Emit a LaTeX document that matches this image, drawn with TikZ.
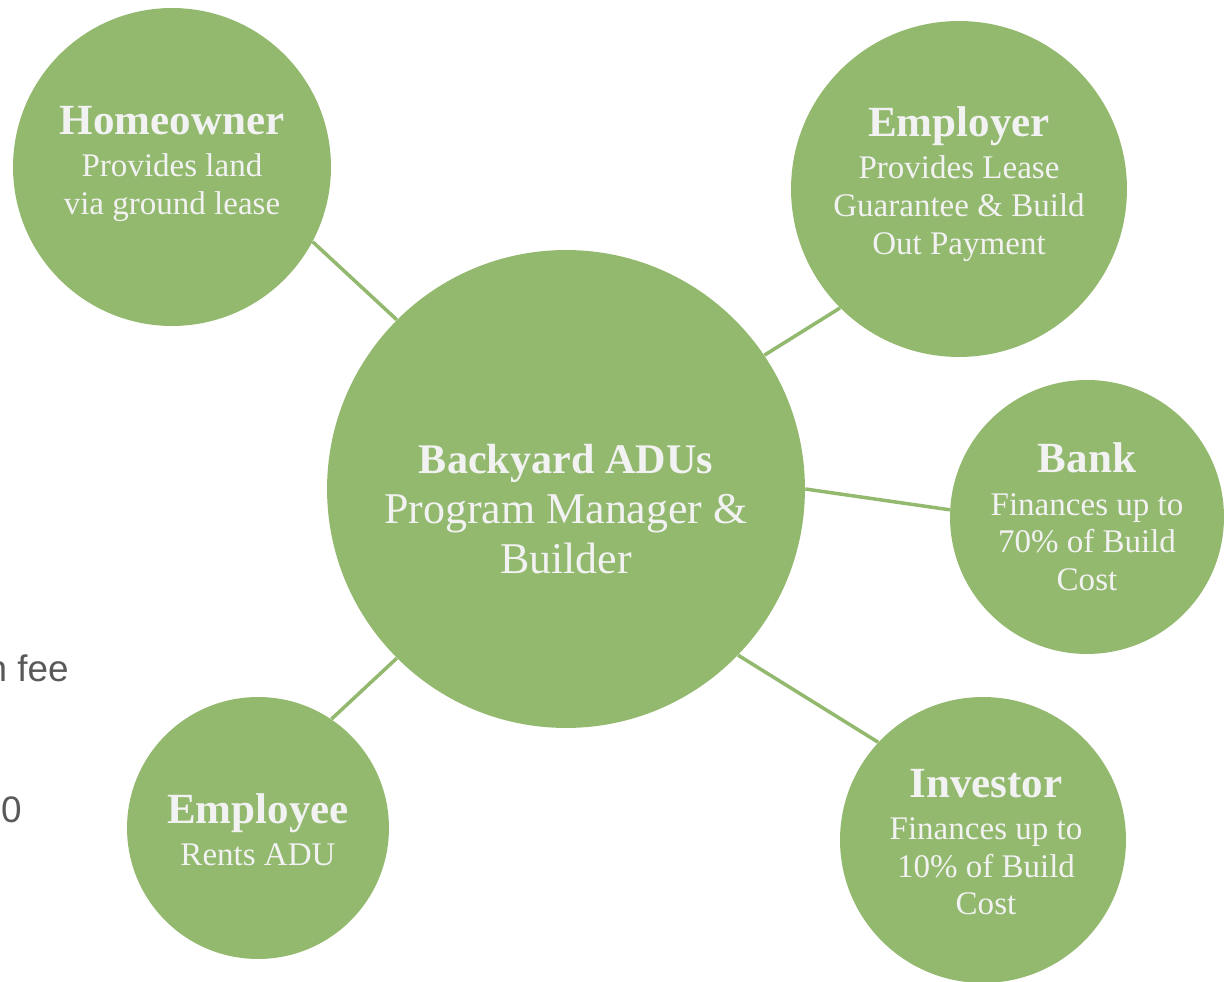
\documentclass[tikz,border=0pt]{standalone}
\usepackage{fontspec}
\setmainfont{Liberation Serif}
\setsansfont{Liberation Sans}
\usetikzlibrary{positioning}
\definecolor{LeafGreen}{HTML}{93B96F}
\definecolor{CircleText}{HTML}{F2F2F2}
\definecolor{SlideGrey}{HTML}{595959}
\newcommand{\roletitle}[1]{{\fontsize{24.5}{25}\selectfont\bfseries #1}}

\begin{document}
\begin{tikzpicture}[x=0.02cm, y=-0.02cm,
    party/.style={circle, fill=LeafGreen, inner sep=0pt},
    link/.style={LeafGreen, line width=2pt},
    roletext/.style={text=CircleText, align=center,
      font=\fontsize{18.8}{21.5}\selectfont},
    slidetext/.style={text=SlideGrey, inner sep=0pt,
      font=\sffamily\fontsize{21}{25}\selectfont}]
    \useasboundingbox (0,0) rectangle (1232,982);
    \clip (0,0) rectangle (1232,982);
    % Leftover slide text
    \node[slidetext, anchor=base east] (feenote) at (69,682) {n fee};
    \node[slidetext, anchor=base east] (sumnote) at (22,823) {0};
    % Circles
    \node[party, minimum size=9.56cm] (hub) at (566,489) {};
    \node[party, minimum size=6.36cm] (home) at (172,167) {};
    \node[party, minimum size=6.72cm] (employer) at (959,189) {};
    \node[party, minimum size=5.48cm] (bank) at (1087,517) {};
    \node[party, minimum size=5.72cm] (investor) at (983,840) {};
    \node[party, minimum size=5.24cm] (employee) at (258,828) {};
    % Links
    \draw[link] (hub.135) -- (home.-28);
    \draw[link] (hub.34) -- (employer.225);
    \draw[link] (hub.0) -- (bank.177);
    \draw[link] (hub.-44) -- (investor.137);
    \draw[link] (hub.225) -- (employee.56);
    % Texts
    \node[roletext, font=\fontsize{25}{28.4}\selectfont] (hub-t) at (566,509)
    {{\fontsize{24}{25}\selectfont\bfseries Backyard ADUs}\\ Program Manager \&\\ Builder};
    \node[roletext] (home-t) at (172,164)
    {\roletitle{Homeowner}\\[2.5pt] Provides land\\ via ground lease};
    \node[roletext] (employer-t) at (959,184)
    {\roletitle{Employer}\\[2.5pt] Provides Lease\\ Guarantee \& Build\\ Out Payment};
    \node[roletext] (bank-t) at (1087,517)
    {\roletitle{Bank}\\[2.5pt] Finances up to\\ 70\% of Build\\ Cost};
    \node[roletext] (investor-t) at (986,842)
    {\roletitle{Investor}\\[2.5pt] Finances up to\\ 10\% of Build\\ Cost};
    \node[roletext] (employee-t) at (258,830)
    {\roletitle{Employee}\\[2.5pt] Rents ADU};
\end{tikzpicture}
\end{document}
